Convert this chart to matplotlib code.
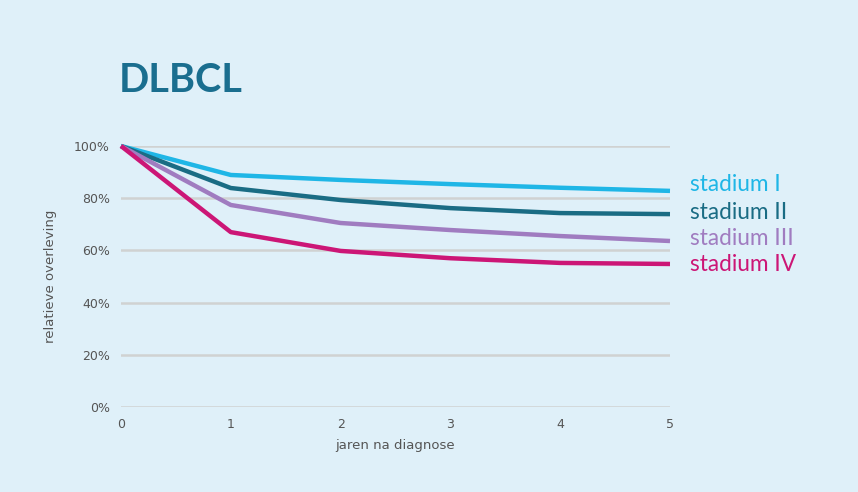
import matplotlib
matplotlib.use('Agg')
import matplotlib.pyplot as plt

years = [0, 1, 2, 3, 4, 5]
stadium_1 = [100, 88.9, 87.0, 85.4, 84.0, 82.8]
stadium_2 = [100, 83.9, 79.3, 76.2, 74.3, 73.9]
stadium_3 = [100, 77.4, 70.5, 67.8, 65.5, 63.6]
stadium_4 = [100, 67.0, 59.8, 57.0, 55.2, 54.8]
labels = ["stadium I", "stadium II", "stadium III", "stadium IV"]
colours = ["#1fb6e6", "#1a6c84", "#a07cc0", "#cc1676"]
label_y = [85.1, 74.4, 64.4, 54.5]

bg = "#dff0f9"
fig = plt.figure(figsize=(8.58, 4.92), dpi=100, facecolor=bg)
ax = fig.add_axes([121 / 858, 1 - 407 / 492, 549 / 858, 261 / 492])
ax.set_facecolor(bg)

for y, c in zip([stadium_1, stadium_2, stadium_3, stadium_4], colours):
    ax.plot(years, y, color=c, lw=3.2, clip_on=False, solid_capstyle='butt', zorder=3)

for lab, c, ly in zip(labels, colours, label_y):
    ax.text(5.18, ly, lab, color=c, fontsize=16.3, va='center', ha='left', family='Lato')

ax.set_xlim(0, 5)
ax.set_ylim(0, 100)
ax.set_yticks([0, 20, 40, 60, 80, 100])
ax.set_yticklabels(["0%", "20%", "40%", "60%", "80%", "100%"])
ax.set_xticks(years)
ax.grid(axis='y', color='#d0d2d2', lw=1.8)
ax.tick_params(length=0, labelsize=9, labelcolor='#555555', pad=8)
for s in ax.spines.values():
    s.set_visible(False)

ax.set_xlabel("jaren na diagnose", fontsize=9.5, color='#555555', labelpad=6)
ax.set_ylabel("relatieve overleving", fontsize=9.5, color='#555555', labelpad=12)

fig.text(119 / 858, 1 - 80 / 492, "DLBCL", fontsize=28.5, fontweight='bold',
         color='#1a6e8f', family='Lato', va='center', ha='left')

fig.savefig("out.png", dpi=100, facecolor=bg)
